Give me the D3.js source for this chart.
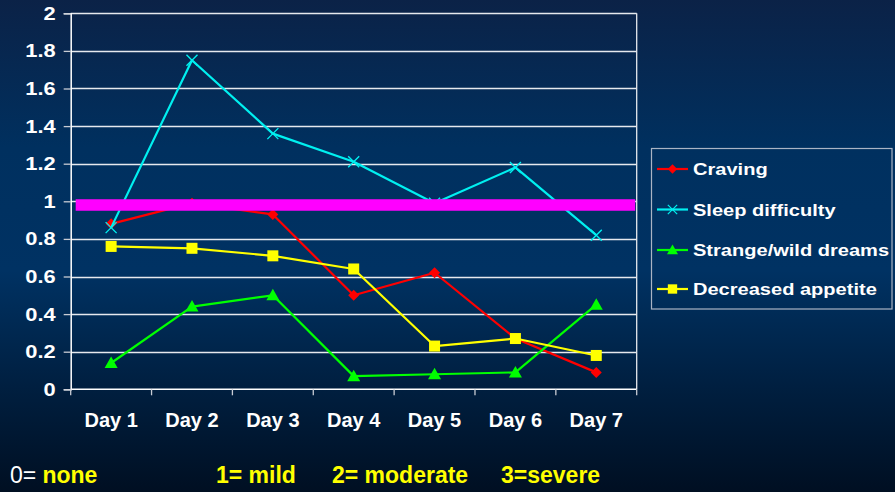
<!DOCTYPE html>
<html>
<head>
<meta charset="utf-8">
<script src="https://cdn.jsdelivr.net/npm/d3@7"></script>
<style>
  html, body { margin: 0; padding: 0; background: #001a38; }
  svg { display: block; }
  text { font-family: "Liberation Sans", Arial, sans-serif; }
</style>
</head>
<body>
<svg id="chart" width="895" height="492"></svg>
<script>
// Days of the week after quitting
const days = ["Day 1", "Day 2", "Day 3", "Day 4", "Day 5", "Day 6", "Day 7"];

// Mean symptom severity per day (0 = none ... 3 = severe)
const craving        = [0.88, 0.99, 0.93, 0.50, 0.62, 0.27, 0.09];
const sleepDifficulty = [0.86, 1.75, 1.36, 1.21, 0.99, 1.18, 0.82];
const strangeDreams  = [0.14, 0.44, 0.50, 0.07, 0.08, 0.09, 0.45];
const decreasedAppetite = [0.76, 0.75, 0.71, 0.64, 0.23, 0.27, 0.18];

const seriesNames = ["Craving", "Sleep difficulty", "Strange/wild dreams", "Decreased appetite"];
const yTicks = [0, 0.2, 0.4, 0.6, 0.8, 1, 1.2, 1.4, 1.6, 1.8, 2];
const yTickLabels = ["0", "0.2", "0.4", "0.6", "0.8", "1", "1.2", "1.4", "1.6", "1.8", "2"];
const referenceLevel = 0.98;   // "mild" threshold band
const scaleLegend = [
  { text: "0=", color: "#ffffff", bold: false },
  { text: " none", color: "#ffff00", bold: true },
  { text: "1= mild", color: "#ffff00", bold: true },
  { text: "2= moderate", color: "#ffff00", bold: true },
  { text: "3=severe", color: "#ffff00", bold: true }
];

const series = [
  { name: seriesNames[0], values: craving, color: "#ff0000", marker: "diamond" },
  { name: seriesNames[1], values: sleepDifficulty, color: "#00f0f0", marker: "cross" },
  { name: seriesNames[2], values: strangeDreams, color: "#00ff00", marker: "triangle" },
  { name: seriesNames[3], values: decreasedAppetite, color: "#ffff00", marker: "square" }
];

const W = 895, H = 492;
const plot = { left: 70.7, right: 636.7, top: 13.3, bottom: 389.3 };

const svg = d3.select("#chart");

// Slide background
const defs = svg.append("defs");
const bg = defs.append("linearGradient").attr("id", "bg").attr("x1", 0).attr("y1", 0).attr("x2", 0).attr("y2", 1);
bg.append("stop").attr("offset", "0%").attr("stop-color", "#0b2247");
bg.append("stop").attr("offset", "30%").attr("stop-color", "#00305f");
bg.append("stop").attr("offset", "55%").attr("stop-color", "#003263");
bg.append("stop").attr("offset", "80%").attr("stop-color", "#001e3e");
bg.append("stop").attr("offset", "100%").attr("stop-color", "#000f22");
svg.append("rect").attr("width", W).attr("height", H).attr("fill", "url(#bg)");

const x = d3.scaleBand().domain(days).range([plot.left, plot.right]).paddingInner(0).paddingOuter(0);
const y = d3.scaleLinear().domain([0, 2]).range([plot.bottom, plot.top]);
const cx = d => x(d) + x.bandwidth() / 2;

// Gridlines
svg.append("g")
  .selectAll("line")
  .data(yTicks.filter(t => t > 0))
  .join("line")
  .attr("x1", plot.left).attr("x2", plot.right)
  .attr("y1", d => Math.round(y(d)) + 0.5).attr("y2", d => Math.round(y(d)) + 0.5)
  .attr("stroke", "#e6e9ee").attr("stroke-width", 1.3);

// Right border of plot area
svg.append("line")
  .attr("x1", plot.right).attr("x2", plot.right)
  .attr("y1", plot.top).attr("y2", plot.bottom)
  .attr("stroke", "#e6e9ee").attr("stroke-width", 1.3);

// Y axis
const yAxis = svg.append("g")
  .attr("transform", `translate(${plot.left},0)`)
  .call(d3.axisLeft(y).tickValues(yTicks).tickSize(7).tickFormat((d, i) => yTickLabels[i]));
yAxis.select(".domain").attr("stroke", "#ffffff").attr("stroke-width", 1.5);
yAxis.selectAll(".tick line").attr("stroke", "#c8ccd4").attr("stroke-width", 1.3);
yAxis.selectAll(".tick text")
  .attr("fill", "#ffffff")
  .attr("font-size", 17.5)
  .attr("font-weight", "bold")
  .attr("font-family", "'Liberation Sans', Arial, sans-serif")
  .attr("x", null).attr("dy", null)
  .attr("text-anchor", "end")
  .attr("transform", "translate(-15,6) scale(1.25,1)");

// X axis (ticks on category boundaries)
const xAxis = svg.append("g")
  .attr("transform", `translate(0,${plot.bottom})`);
xAxis.append("line")
  .attr("x1", plot.left).attr("x2", plot.right)
  .attr("y1", 0).attr("y2", 0)
  .attr("stroke", "#ffffff").attr("stroke-width", 1.5);
xAxis.selectAll("line.tk")
  .data(days.concat(["__end"]))
  .join("line").attr("class", "tk")
  .attr("x1", (d, i) => plot.left + i * x.bandwidth())
  .attr("x2", (d, i) => plot.left + i * x.bandwidth())
  .attr("y1", 0).attr("y2", 6)
  .attr("stroke", "#c8ccd4").attr("stroke-width", 1.3);
xAxis.selectAll("text")
  .data(days)
  .join("text")
  .attr("x", d => cx(d)).attr("y", 38)
  .attr("text-anchor", "middle")
  .attr("fill", "#ffffff")
  .attr("font-size", 20)
  .attr("font-weight", "bold")
  .text(d => d);

// Marker drawing
function drawMarker(g, type, color) {
  if (type === "diamond") {
    g.append("path").attr("d", "M0,-5.5L5.5,0L0,5.5L-5.5,0Z").attr("fill", color);
  } else if (type === "square") {
    g.append("rect").attr("x", -5.5).attr("y", -5.5).attr("width", 11).attr("height", 11)
      .attr("fill", color);
  } else if (type === "triangle") {
    g.append("path").attr("d", "M0,-6.5L6.5,5L-6.5,5Z").attr("fill", color);
  } else if (type === "cross") {
    g.append("path").attr("d", "M-5.5,-5.5L5.5,5.5M-5.5,5.5L5.5,-5.5")
      .attr("stroke", color).attr("stroke-width", 1.4).attr("fill", "none");
  }
}

const line = d3.line().x((d, i) => cx(days[i])).y(d => y(d));

// Draw the four series
series.forEach(s => {
  svg.append("path")
    .datum(s.values)
    .attr("d", line)
    .attr("fill", "none")
    .attr("stroke", s.color)
    .attr("stroke-width", 2.2)
    .attr("stroke-linejoin", "round");
  s.values.forEach((v, i) => {
    const g = svg.append("g").attr("transform", `translate(${cx(days[i])},${y(v)})`);
    drawMarker(g, s.marker, s.color);
  });
});

// Reference band at the "mild" level, laid over the lines
svg.append("line")
  .attr("x1", plot.left + 5).attr("x2", plot.right - 1.5)
  .attr("y1", y(referenceLevel)).attr("y2", y(referenceLevel))
  .attr("stroke", "#ff00ff").attr("stroke-width", 11.5);

// Legend
const legend = svg.append("g");
legend.append("rect")
  .attr("x", 651.5).attr("y", 148.5).attr("width", 240.5).attr("height", 160.5)
  .attr("fill", "none").attr("stroke", "#aab4c4").attr("stroke-width", 1.2);
const rowY = [169, 209.5, 250, 289];
series.forEach((s, i) => {
  const row = legend.append("g").attr("transform", `translate(0,${rowY[i]})`);
  row.append("line").attr("x1", 657).attr("x2", 688).attr("y1", 0).attr("y2", 0)
    .attr("stroke", s.color).attr("stroke-width", 2.2);
  const m = row.append("g").attr("transform", "translate(672.5,0) scale(0.85)");
  drawMarker(m, s.marker, s.color);
  row.append("text")
    .attr("transform", "translate(693,6) scale(1.18,1)")
    .attr("fill", "#ffffff")
    .attr("font-size", 17)
    .attr("font-weight", "bold")
    .text(s.name);
});

// Severity scale note at the bottom
const noteX = [10, 36, 216, 332, 501];
svg.append("g")
  .selectAll("text")
  .data(scaleLegend)
  .join("text")
  .attr("x", (d, i) => noteX[i])
  .attr("y", 483)
  .attr("fill", d => d.color)
  .attr("font-size", 23)
  .attr("font-weight", d => d.bold ? "bold" : "normal")
  .attr("xml:space", "preserve")
  .style("white-space", "pre")
  .text(d => d.text);
</script>
</body>
</html>
